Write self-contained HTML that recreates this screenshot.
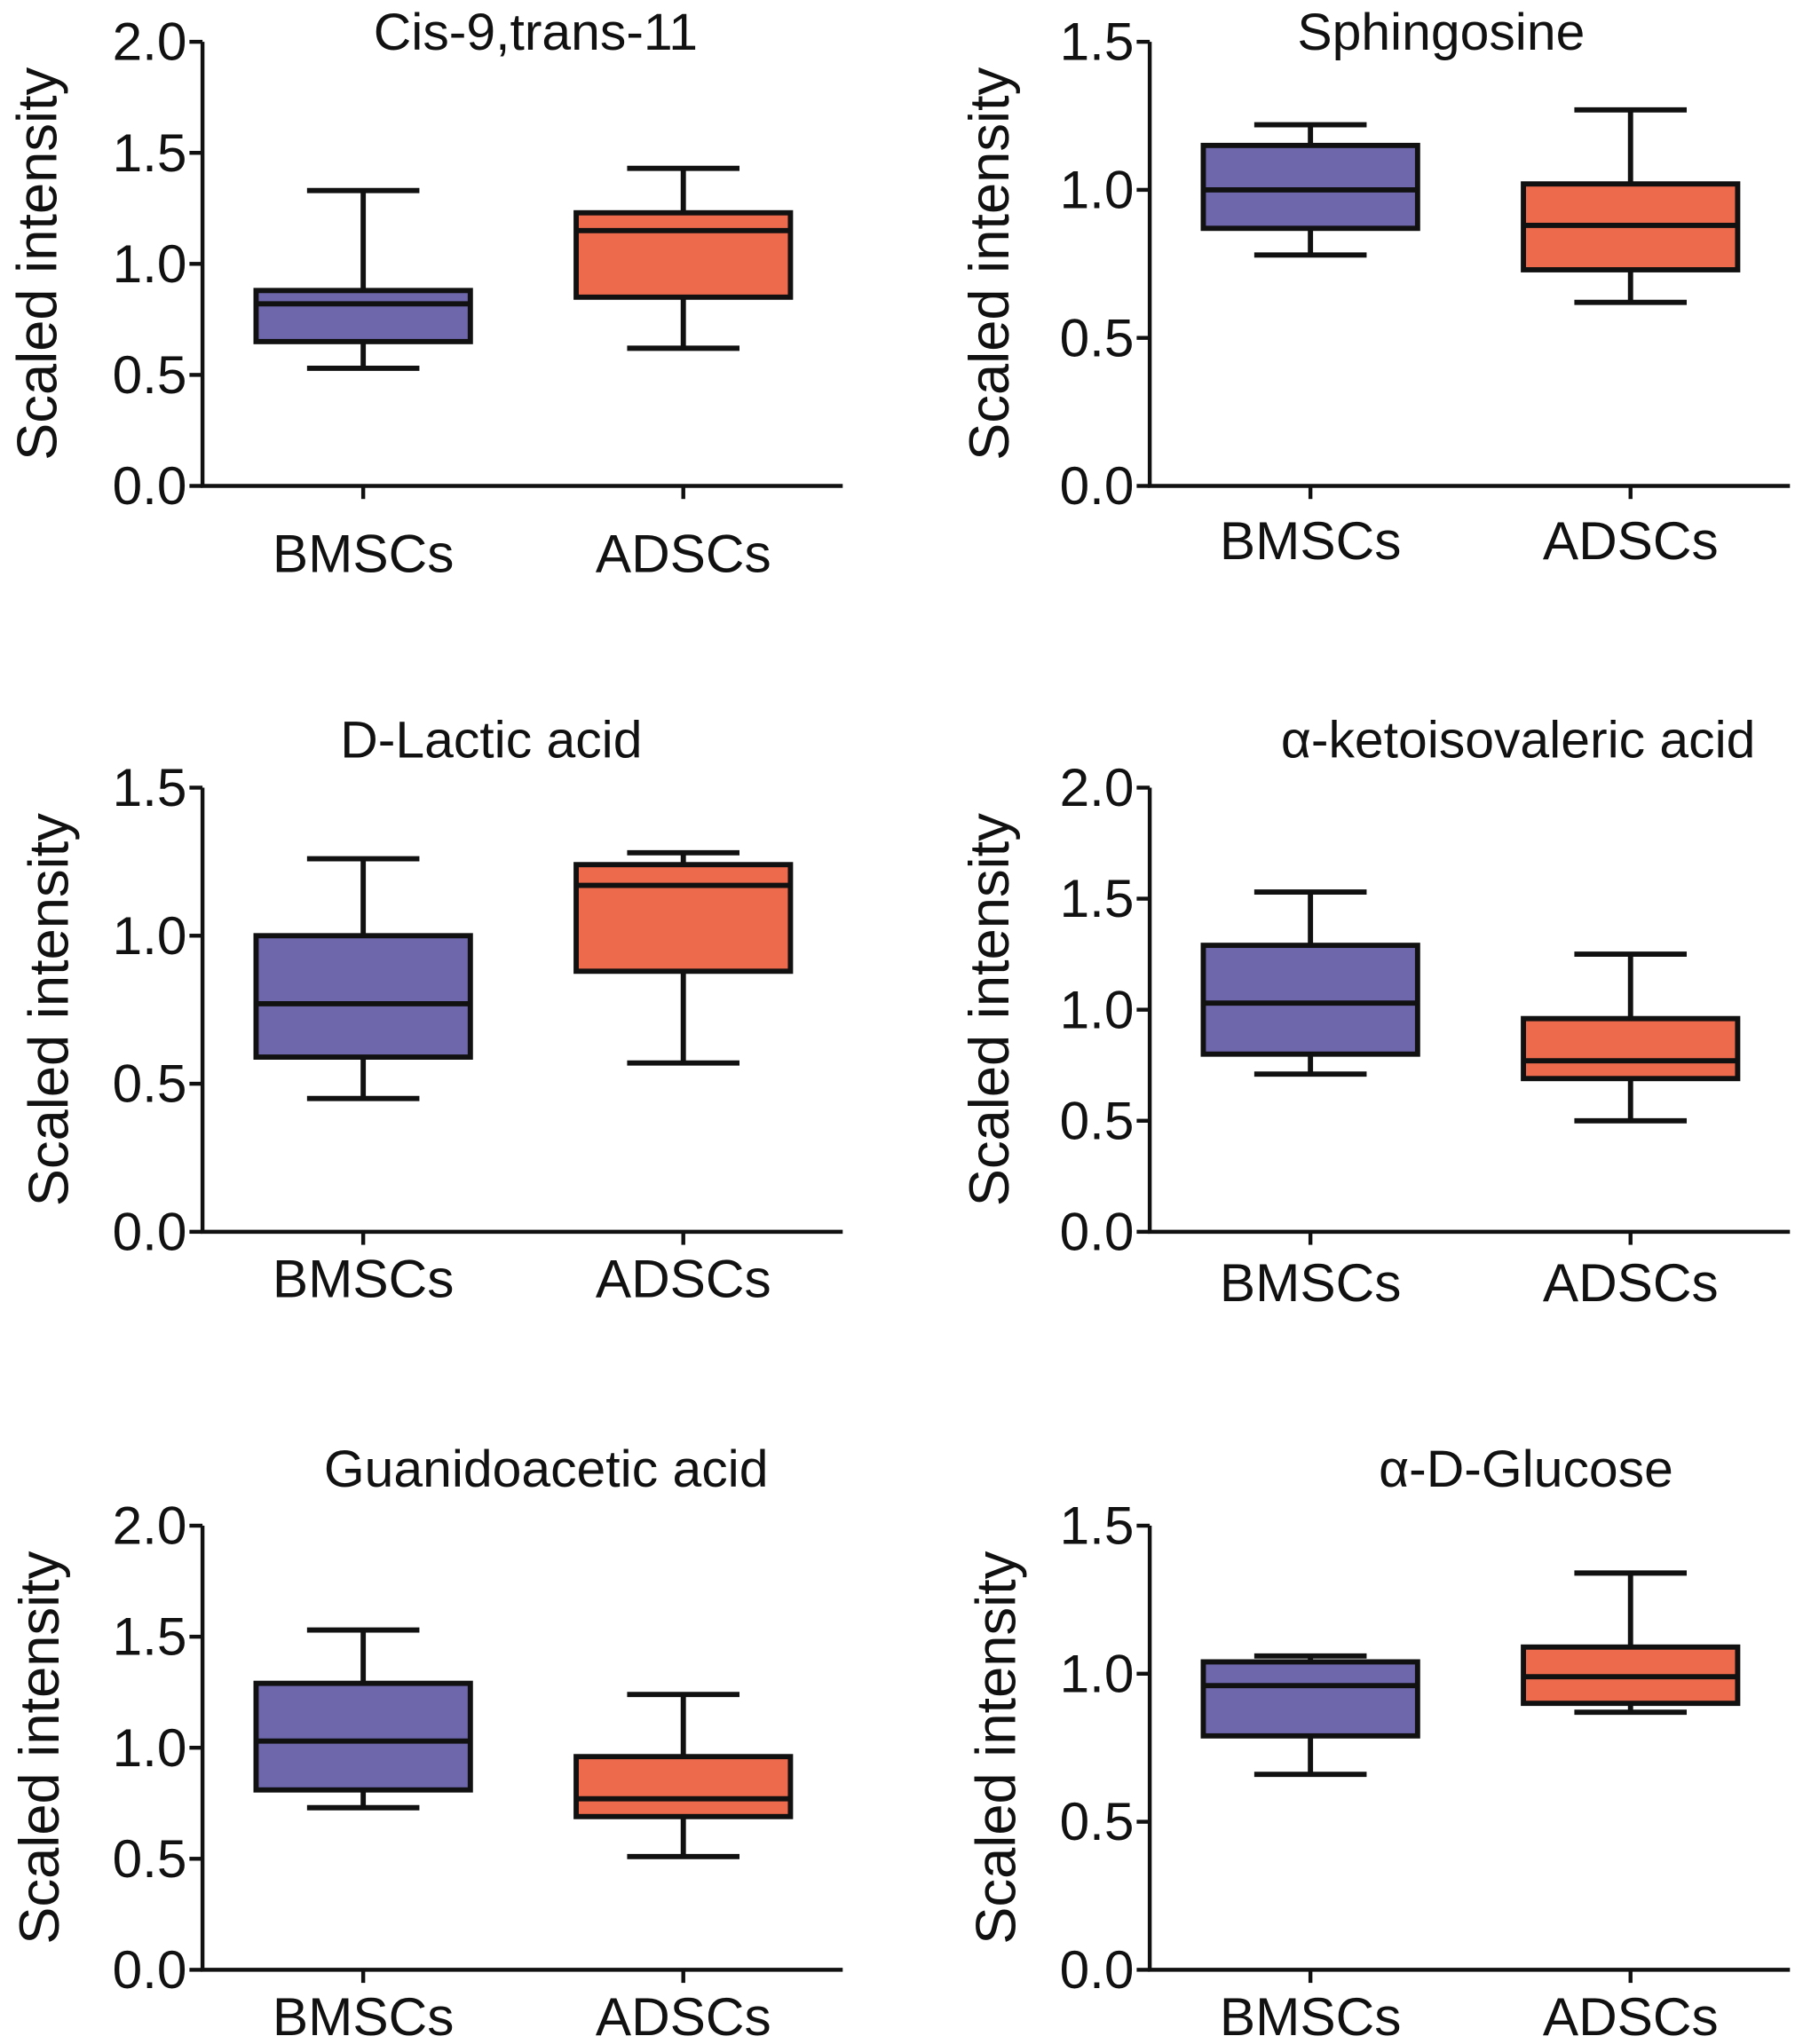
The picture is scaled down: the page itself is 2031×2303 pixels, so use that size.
<!DOCTYPE html>
<html><head><meta charset="utf-8"><style>html,body{margin:0;padding:0;background:#fff}svg{display:block}text{font-family:"Liberation Sans",sans-serif;fill:#111}</style></head>
<body>
<svg id="fig" width="2031" height="2303" viewBox="0 0 1380 1564.8" xmlns="http://www.w3.org/2000/svg"></svg>
<script>
const titles = ["Cis-9,trans-11","Sphingosine","D-Lactic acid","α-ketoisovaleric acid","Guanidoacetic acid","α-D-Glucose"];
const categories = ["BMSCs","ADSCs"];
const yMaxes = [2.0,1.5,1.5,2.0,2.0,1.5];
const tickLabels2 = ["0.0","0.5","1.0","1.5","2.0"];
const tickLabels15 = ["0.0","0.5","1.0","1.5"];
// [min, q1, median, q3, max]
const bmscStats = [[0.53,0.65,0.82,0.88,1.33],[0.78,0.87,1.0,1.15,1.22],[0.45,0.59,0.77,1.0,1.26],[0.71,0.80,1.03,1.29,1.53],[0.73,0.81,1.03,1.29,1.53],[0.66,0.79,0.96,1.04,1.06]];
const adscStats = [[0.62,0.85,1.15,1.23,1.43],[0.62,0.73,0.88,1.02,1.27],[0.57,0.88,1.17,1.24,1.28],[0.50,0.69,0.77,0.96,1.25],[0.51,0.69,0.77,0.96,1.24],[0.87,0.90,0.99,1.09,1.34]];
const colors = ["#6e67ac","#ee6a4c"];
const layout = [
 {ax:155,top:32,bot:372,tx:410,ty:38,ly:438,yl:28},
 {ax:880,top:32,bot:372,tx:1103,ty:38,ly:428,yl:757},
 {ax:155,top:603,bot:943,tx:376,ty:580,ly:993,yl:37},
 {ax:880,top:603,bot:943,tx:1162,ty:580,ly:996,yl:757},
 {ax:155,top:1168,bot:1508,tx:418,ty:1138,ly:1558,yl:30},
 {ax:880,top:1168,bot:1508,tx:1168,ty:1138,ly:1558,yl:762}
];
const NS="http://www.w3.org/2000/svg";
const svg=document.getElementById('fig');
function mk(tag,attrs,parent){const e=document.createElementNS(NS,tag);for(const k in attrs)e.setAttribute(k,attrs[k]);parent.appendChild(e);return e;}
layout.forEach((L,i)=>{
  const g=mk('g',{},svg);
  
  
  const ymax=yMaxes[i];
  const y=v=>L.bot-(v/ymax)*(L.bot-L.top);
  const cx=[L.ax+123,L.ax+368];
  const axis=mk('path',{d:`M${L.ax},${L.top} V${L.bot} H${L.ax+490}`,stroke:'#111','stroke-width':3,fill:'none'},g);
  
  
  const ticks=ymax===2?tickLabels2:tickLabels15;
  ticks.forEach(t=>{
    const v=parseFloat(t);
    mk('line',{x1:L.ax-10,x2:L.ax,y1:y(v),y2:y(v),stroke:'#111','stroke-width':3},g);
    const tx=mk('text',{x:L.ax-12,y:y(v)+14,'text-anchor':'end','font-size':41},g);
    tx.textContent=t;
    
    
  });
  const tt=mk('text',{x:L.tx,y:L.ty,'text-anchor':'middle','font-size':40},g);
  tt.textContent=titles[i];
  
  
  const yc=(L.top+L.bot)/2;
  const yl=mk('text',{x:L.yl,y:yc,'text-anchor':'middle','font-size':43,transform:`rotate(-90 ${L.yl} ${yc}) translate(0 15)`},g);
  yl.textContent='Scaled intensity';
  
  
  [bmscStats[i],adscStats[i]].forEach((s,j)=>{
    const c=cx[j];
    mk('line',{x1:c,x2:c,y1:L.bot,y2:L.bot+10,stroke:'#111','stroke-width':3},g);
    const cl=mk('text',{x:c,y:L.ly,'text-anchor':'middle','font-size':41},g);
    cl.textContent=categories[j];
    
    
    const bg=mk('g',{},g);
    
    
    const sw=4;
    mk('line',{x1:c,x2:c,y1:y(s[0]),y2:y(s[4]),stroke:'#111','stroke-width':sw},bg);
    mk('line',{x1:c-43,x2:c+43,y1:y(s[0]),y2:y(s[0]),stroke:'#111','stroke-width':sw},bg);
    mk('line',{x1:c-43,x2:c+43,y1:y(s[4]),y2:y(s[4]),stroke:'#111','stroke-width':sw},bg);
    mk('rect',{x:c-82,y:y(s[3]),width:164,height:y(s[1])-y(s[3]),fill:colors[j],stroke:'#111','stroke-width':sw},bg);
    mk('line',{x1:c-82,x2:c+82,y1:y(s[2]),y2:y(s[2]),stroke:'#111','stroke-width':sw},bg);
  });
});
</script>
</body></html>
